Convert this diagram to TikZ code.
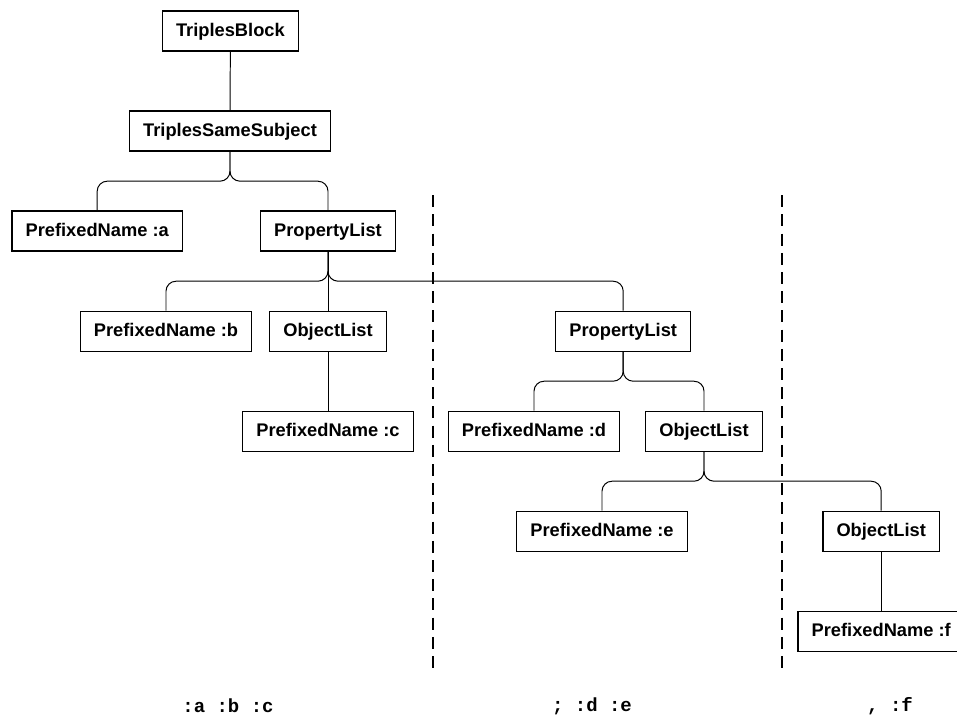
\documentclass[tikz,border=0pt]{standalone}
\usepackage{fontspec}
\setmainfont{Liberation Sans}
\setmonofont{Liberation Mono}
\usepackage{xcolor}
\usepackage{tikz}
\usetikzlibrary{positioning,calc}

\begin{document}
\begin{tikzpicture}[
    rule/.style={draw, line width=1pt, minimum height=1cm, inner xsep=0.34cm,
                 text height=0.72em, text depth=0pt,
                 font=\fontsize{13}{15}\selectfont\bfseries},
    link/.style={draw, line width=0.7pt, rounded corners=0.25cm},
    split/.style={line width=1.1pt, dash pattern=on 0.3cm off 0.18cm},
    src/.style={font=\fontsize{13.5}{15}\selectfont\ttfamily\bfseries}
  ]
  \useasboundingbox (0,0) rectangle (23.925,-17.925);

  % parse tree
  \node[rule] (block) at (5.76,-0.78) {TriplesBlock};
  \node[rule] (same)  at (5.75,-3.28) {TriplesSameSubject};
  \node[rule] (pnA)   at (2.43,-5.78) {PrefixedName :a};
  \node[rule] (propA) at (8.2,-5.78)  {PropertyList};
  \node[rule] (pnB)   at (4.15,-8.28) {PrefixedName :b};
  \node[rule] (objA)  at (8.2,-8.28)  {ObjectList};
  \node[rule] (pnC)   at (8.2,-10.78) {PrefixedName :c};
  \node[rule] (propB) at (15.58,-8.28) {PropertyList};
  \node[rule] (pnD)   at (13.35,-10.78) {PrefixedName :d};
  \node[rule] (objB)  at (17.6,-10.78) {ObjectList};
  \node[rule] (pnE)   at (15.05,-13.28) {PrefixedName :e};
  \node[rule] (objC)  at (22.03,-13.28) {ObjectList};
  \node[rule] (pnF)   at (22.03,-15.78) {PrefixedName :f};

  % straight links
  \draw[link] (block) -- (same);
  \draw[link] (propA) -- (objA);
  \draw[link] (objA) -- (pnC);
  \draw[link] (objC) -- (pnF);

  % forked links
  \foreach \parent/\y/\child in {same/-4.53/pnA, same/-4.53/propA,
                                  propA/-7.03/pnB, propA/-7.03/propB,
                                  propB/-9.53/pnD, propB/-9.53/objB,
                                  objB/-12.03/pnE, objB/-12.03/objC}
    \draw[link] (\parent.south) -- (\parent.south |- 0,\y)
                -- (\child.north |- 0,\y) -- (\child.north);

  % separators
  \draw[split] (10.83,-4.88) -- (10.83,-16.7);
  \draw[split] (19.55,-4.88) -- (19.55,-16.7);

  % source text
  \node[src] (srcA) at (5.7,-17.65)  {:a :b :c};
  \node[src] (srcB) at (14.8,-17.65) {; :d :e};
  \node[src] (srcC) at (22.25,-17.65) {, :f};
\end{tikzpicture}
\end{document}
